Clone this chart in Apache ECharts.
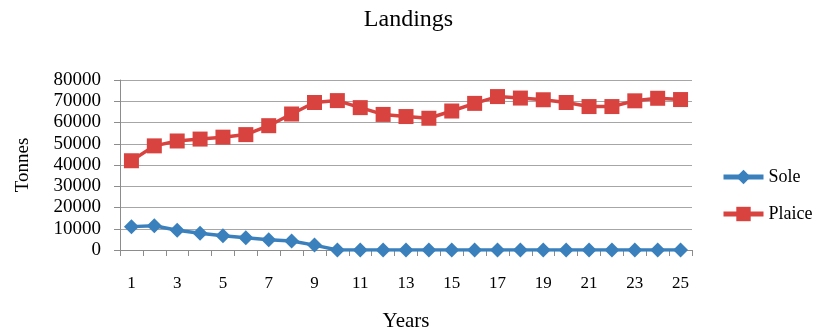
<!DOCTYPE html>
<html>
<head>
<meta charset="utf-8">
<script src="https://cdn.jsdelivr.net/npm/echarts@6/dist/echarts.min.js"></script>
<style>
  html, body { margin: 0; padding: 0; background: #fff; }
  #chart { width: 817px; height: 331px; }
</style>
</head>
<body>
<div id="chart"></div>
<script>
  const years = ['1','2','3','4','5','6','7','8','9','10','11','12','13','14','15','16','17','18','19','20','21','22','23','24','25'];
  const sole = [11000, 11400, 9300, 7900, 6700, 5800, 4800, 4200, 2300, 0, 0, 0, 0, 0, 0, 0, 0, 0, 0, 0, 0, 0, 0, 0, 0];
  const plaice = [42000, 49000, 51300, 52200, 53100, 54300, 58500, 64000, 69400, 70300, 67000, 63800, 62800, 62000, 65400, 69000, 72200, 71500, 70700, 69400, 67500, 67500, 70200, 71400, 70800];
  const yTicks = [0, 10000, 20000, 30000, 40000, 50000, 60000, 70000, 80000];

  const font = "'Liberation Serif', 'DejaVu Serif', serif";
  const myChart = echarts.init(document.getElementById('chart'));
  myChart.setOption({
    animation: false,
    textStyle: { fontFamily: font },
    title: {
      text: 'Landings',
      left: 'center',
      top: 3,
      textStyle: { fontFamily: font, fontSize: 24, fontWeight: 'normal', color: '#000' },
    },
    grid: { left: 120, right: 125, top: 80, bottom: 81, outerBoundsMode: 'none' },
    legend: {
      orient: 'vertical',
      left: 716,
      top: 163,
      itemGap: 19,
      itemWidth: 40,
      itemHeight: 18,
      lineStyle: { width: 5 },
      textStyle: { fontFamily: font, fontSize: 18, color: '#000' },
      data: ['Sole', 'Plaice'],
    },
    xAxis: {
      type: 'category',
      data: years,
      boundaryGap: true,
      name: 'Years',
      nameLocation: 'middle',
      nameGap: 61,
      nameTextStyle: { fontFamily: font, fontSize: 21, color: '#000' },
      axisLine: { lineStyle: { color: '#8c8c8c', width: 1 } },
      axisTick: { show: true, interval: 0, length: 6, lineStyle: { color: '#8c8c8c' } },
      axisLabel: { interval: 1, margin: 25, fontSize: 17, color: '#000', fontFamily: font },
    },
    yAxis: {
      type: 'value',
      min: yTicks[0],
      max: yTicks[yTicks.length - 1],
      interval: 10000,
      name: 'Tonnes',
      nameLocation: 'middle',
      nameGap: 87,
      nameTextStyle: { fontFamily: font, fontSize: 19, color: '#000' },
      axisLine: { show: true, lineStyle: { color: '#8c8c8c', width: 1 } },
      axisTick: { show: true, length: 6, lineStyle: { color: '#8c8c8c' } },
      axisLabel: {
        margin: 19,
        fontSize: 19,
        color: '#000',
        fontFamily: font,
        formatter: (v) => String(v),
      },
      splitLine: { lineStyle: { color: '#a6a6a6', width: 1 } },
    },
    series: [
      {
        name: 'Sole',
        type: 'line',
        data: sole,
        symbol: 'diamond',
        symbolSize: 15,
        lineStyle: { color: '#3a80bd', width: 3.5 },
        itemStyle: { color: '#3a80bd' },
      },
      {
        name: 'Plaice',
        type: 'line',
        data: plaice,
        symbol: 'rect',
        symbolSize: 15,
        lineStyle: { color: '#d8433f', width: 3.5 },
        itemStyle: { color: '#d8433f' },
      },
    ],
  });
</script>
</body>
</html>
